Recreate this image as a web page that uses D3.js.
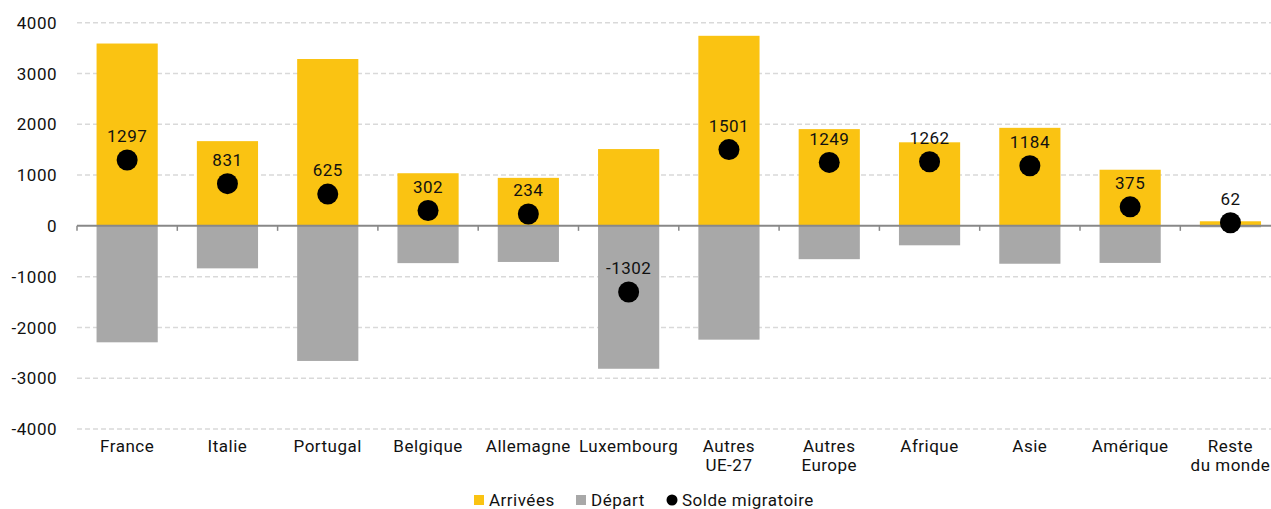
<!DOCTYPE html>
<html>
<head>
<meta charset="utf-8">
<script src="https://cdn.jsdelivr.net/npm/d3@7"></script>
<style>
  html, body { margin: 0; padding: 0; background: #fff; }
  svg { display: block; font-family: Roboto, "Noto Sans", sans-serif; }
  text { letter-spacing: 0.5px; font-weight: 400; }
</style>
</head>
<body>
<svg id="chart" width="1271" height="509"></svg>
<script>
const categories = ["France", "Italie", "Portugal", "Belgique", "Allemagne", "Luxembourg",
  "Autres\nUE-27", "Autres\nEurope", "Afrique", "Asie", "Amérique", "Reste\ndu monde"];
const arrivees = [3590, 1668, 3285, 1036, 945, 1512, 3742, 1905, 1645, 1930, 1105, 90];
const departs = [-2293, -837, -2660, -734, -711, -2814, -2241, -656, -383, -746, -730, -28];
const solde = [1297, 831, 625, 302, 234, -1302, 1501, 1249, 1262, 1184, 375, 62];
const yTicks = [4000, 3000, 2000, 1000, 0, -1000, -2000, -3000, -4000];
const legendLabels = ["Arrivées", "Départ", "Solde migratoire"];

const W = 1271, H = 509;
const svg = d3.select("#chart");
const YELLOW = "#FAC312", GRAY = "#A8A8A8";

const y = d3.scaleLinear().domain([-4000, 4000]).range([429, 22.7]);
const x = d3.scaleBand().domain(categories).range([77, 1280.6]).paddingInner(0.39).paddingOuter(0.195);

// gridlines
svg.append("g").selectAll("line").data(yTicks.filter(d => d !== 0)).join("line")
  .attr("x1", 77).attr("x2", W)
  .attr("y1", d => y(d)).attr("y2", d => y(d))
  .attr("stroke", "#d9d9d9").attr("stroke-width", 1.5).attr("stroke-dasharray", "5,3");

// y tick labels
svg.append("g").selectAll("text").data(yTicks).join("text")
  .attr("x", 57).attr("y", d => y(d)).attr("dy", "0.36em")
  .attr("text-anchor", "end").attr("font-size", 17).attr("fill", "#111")
  .text(d => d);

// bars
const data = categories.map((c, i) => ({c, a: arrivees[i], d: departs[i], s: solde[i]}));
svg.append("g").selectAll("rect").data(data).join("rect")
  .attr("x", d => x(d.c)).attr("width", x.bandwidth())
  .attr("y", d => y(d.a)).attr("height", d => y(0) - y(d.a))
  .attr("fill", YELLOW);
svg.append("g").selectAll("rect").data(data).join("rect")
  .attr("x", d => x(d.c)).attr("width", x.bandwidth())
  .attr("y", y(0)).attr("height", d => y(d.d) - y(0))
  .attr("fill", GRAY);

// axis line & ticks
svg.append("line").attr("x1", 77).attr("x2", W).attr("y1", y(0)).attr("y2", y(0))
  .attr("stroke", "#888").attr("stroke-width", 2);
const boundaries = categories.map(c => x(c) - x.step() * 0.195);
svg.append("g").selectAll("line").data(boundaries).join("line")
  .attr("x1", d => d).attr("x2", d => d).attr("y1", y(0)).attr("y2", y(0) + 5)
  .attr("stroke", "#888").attr("stroke-width", 1.5);

// dots and labels
svg.append("g").selectAll("circle").data(data).join("circle")
  .attr("cx", d => x(d.c) + x.bandwidth() / 2).attr("cy", d => y(d.s)).attr("r", 10.5)
  .attr("fill", "#000");
svg.append("g").selectAll("text").data(data).join("text")
  .attr("x", d => x(d.c) + x.bandwidth() / 2).attr("y", d => y(d.s) - 24).attr("dy", "0.36em")
  .attr("text-anchor", "middle").attr("font-size", 17).attr("fill", "#111")
  .text(d => d.s);

// x labels
const xl = svg.append("g").selectAll("text").data(categories).join("text")
  .attr("x", d => x(d) + x.bandwidth() / 2).attr("y", 452)
  .attr("text-anchor", "middle").attr("font-size", 17).attr("fill", "#111");
xl.each(function(d) {
  const lines = d.split("\n");
  d3.select(this).selectAll("tspan").data(lines).join("tspan")
    .attr("x", x(d) + x.bandwidth() / 2).attr("dy", (l, i) => i === 0 ? 0 : 19).text(l => l);
});

// legend
const lg = svg.append("g");
lg.append("rect").attr("x", 474).attr("y", 495).attr("width", 10).attr("height", 10).attr("fill", YELLOW);
lg.append("text").attr("x", 489).attr("y", 506).attr("font-size", 17).attr("fill", "#111").text(legendLabels[0]);
lg.append("rect").attr("x", 576).attr("y", 495).attr("width", 10).attr("height", 10).attr("fill", GRAY);
lg.append("text").attr("x", 591).attr("y", 506).attr("font-size", 17).attr("fill", "#111").text(legendLabels[1]);
lg.append("circle").attr("cx", 672).attr("cy", 500).attr("r", 5.5).attr("fill", "#000");
lg.append("text").attr("x", 682).attr("y", 506).attr("font-size", 17).attr("fill", "#111").text(legendLabels[2]);
</script>
</body>
</html>
